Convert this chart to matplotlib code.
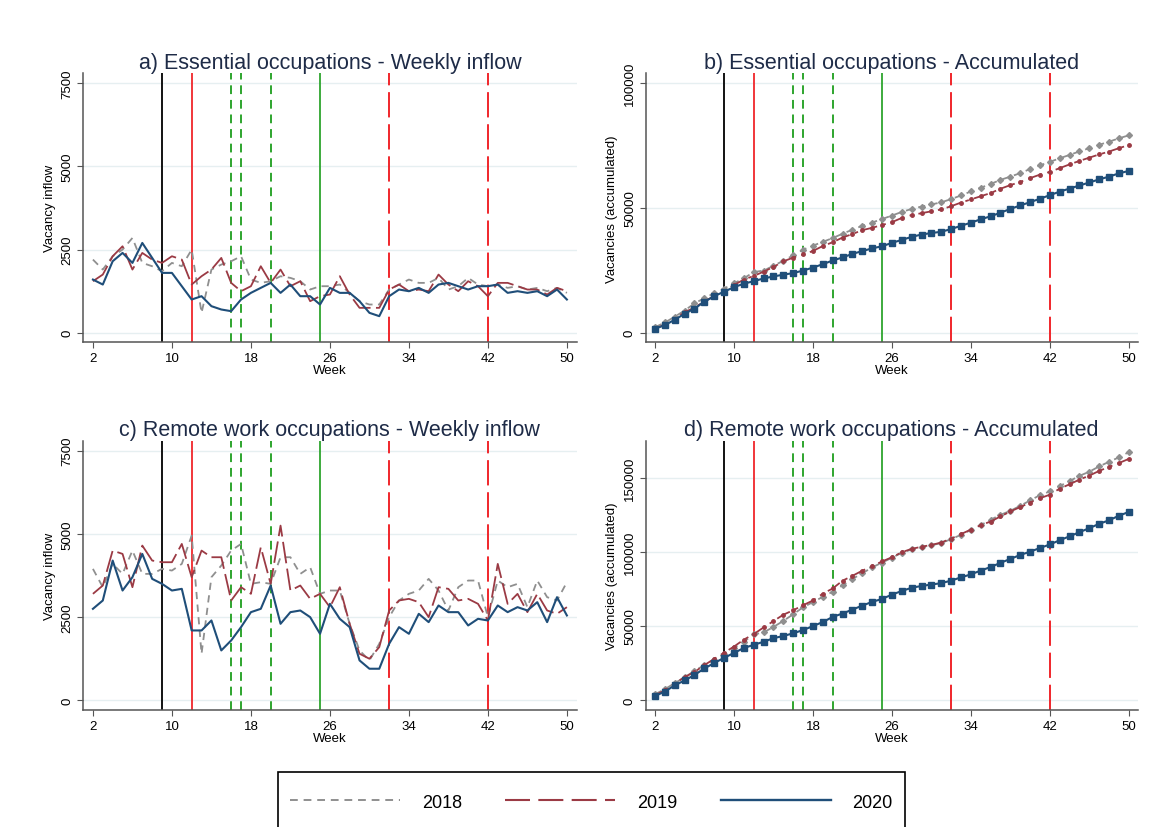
import numpy as np
import matplotlib
matplotlib.use("Agg")
import matplotlib.pyplot as plt
from matplotlib.lines import Line2D
from matplotlib.patches import Rectangle

plt.rcParams['font.family'] = ['Liberation Sans', 'DejaVu Sans']

weeks = list(range(2, 51))

# weekly vacancy inflow, essential occupations
ess_2018 = [2200, 1900, 2300, 2500, 2850, 2100, 2000, 1850, 2100, 2000, 2500, 600, 1900, 2050,
            2150, 2300, 1600, 1500, 1550, 1700, 1650, 1550, 1300, 1400, 1400, 1450, 1200, 950,
            850, 850, 1300, 1450, 1600, 1500, 1500, 1650, 1300, 1400, 1650, 1450, 1400, 1450,
            1350, 1400, 1300, 1350, 1250, 1350, 1200]
ess_2019 = [1550, 1750, 2300, 2600, 1900, 2400, 2200, 2100, 2300, 2200, 1450, 1700, 1900, 2250,
            1500, 1250, 1400, 2000, 1500, 1900, 1400, 1550, 950, 1100, 1150, 1700, 1150, 750,
            750, 750, 1300, 1450, 1250, 1300, 1250, 1750, 1450, 1250, 1550, 1400, 1100, 1500,
            1500, 1400, 1300, 1300, 1150, 1350, 1250]
ess_2020 = [1600, 1450, 2150, 2400, 2100, 2700, 2250, 1800, 1800, 1400, 1000, 1100, 800, 700,
            650, 1000, 1200, 1350, 1500, 1200, 1450, 1100, 1100, 850, 1350, 1200, 1200, 950,
            600, 500, 1100, 1300, 1250, 1350, 1200, 1450, 1500, 1400, 1300, 1400, 1400, 1450,
            1200, 1250, 1200, 1250, 1100, 1300, 1000]

# weekly vacancy inflow, remote work occupations
rem_2018 = [3950, 3400, 4100, 3800, 4500, 3800, 3800, 3950, 3900, 4100, 4950, 1400, 3700, 4050,
            4500, 4700, 3500, 3550, 3500, 4300, 4300, 3800, 4000, 3200, 3300, 3300, 2300, 1500,
            1200, 1700, 2500, 3000, 3200, 3300, 3650, 3300, 2700, 3400, 3600, 3600, 2500, 3600,
            3400, 3500, 2800, 3600, 3100, 3000, 3550]
rem_2019 = [3200, 3450, 4500, 4400, 3400, 4650, 4200, 4150, 4150, 4700, 3700, 4500, 4300, 4300,
            3000, 3400, 3200, 4600, 3500, 5250, 3300, 3450, 3050, 3200, 2800, 3400, 2300, 1400,
            1250, 1600, 2700, 3000, 3050, 2950, 2500, 3400, 3350, 3000, 3050, 2900, 2400, 4100,
            2900, 3200, 2650, 3200, 2700, 2600, 2800]
rem_2020 = [2750, 3000, 4200, 3300, 3700, 4400, 3650, 3500, 3300, 3350, 2100, 2100, 2400, 1500,
            1800, 2200, 2650, 2750, 3450, 2300, 2650, 2700, 2500, 2000, 2900, 2450, 2200, 1200,
            950, 950, 1700, 2200, 2000, 2600, 2350, 2850, 2650, 2650, 2250, 2450, 2400, 2850,
            2650, 2800, 2700, 2950, 2350, 3100, 2550]

# policy event weeks
ev_black = [9]
ev_red_solid = [12]
ev_green_dash = [16, 17, 20]
ev_green_solid = [25]
ev_red_dash = [32, 42]

titles = ["a) Essential occupations - Weekly inflow", "b) Essential occupations - Accumulated",
          "c) Remote work occupations - Weekly inflow", "d) Remote work occupations - Accumulated"]
c18, c19, c20 = '#8f8f8f', '#9b3a44', '#1f4e79'
red, green = '#f0262b', '#2ea52e'
title_col = '#1e2b47'

fig = plt.figure(figsize=(11.57, 8.28), dpi=100)
lefts = [0.0717, 0.5581]
widths = [0.4268, 0.4252]
bottoms = [0.5852, 0.1413]
h = 0.3252
xlims = [(0.99, 51.0), (1.06, 50.9)]


def events(ax):
    for w in ev_black:
        ax.axvline(w, color='black', lw=1.3, zorder=1)
    for w in ev_red_solid:
        ax.axvline(w, color=red, lw=1.3, zorder=1)
    for w in ev_green_dash:
        ax.axvline(w, color=green, lw=1.4, dashes=(4.5, 3), zorder=1)
    for w in ev_green_solid:
        ax.axvline(w, color=green, lw=1.3, zorder=1)
    for w in ev_red_dash:
        ax.axvline(w, color=red, lw=1.4, dashes=(13, 3.5), zorder=1)


def style(ax, xl, yt, ylim, ylab):
    ax.set_xlim(*xl)
    ax.set_ylim(*ylim)
    ax.set_xticks([2, 10, 18, 26, 34, 42, 50])
    ax.set_yticks(yt)
    ax.set_yticklabels([str(v) for v in yt], rotation=90, va='center')
    for v in yt:
        ax.axhline(v, color='#e6eff1', lw=1, zorder=0)
    for s in ['top', 'right']:
        ax.spines[s].set_visible(False)
    for s in ['left', 'bottom']:
        ax.spines[s].set_color('#555555')
        ax.spines[s].set_linewidth(1.1)
    ax.tick_params(labelsize=9.5, length=4, color='#555555', pad=3)
    ax.set_xlabel('Week', fontsize=9.5, labelpad=0)
    ax.set_ylabel(ylab, fontsize=9.5, labelpad=4)


data = [(ess_2018, ess_2019, ess_2020), (rem_2018, rem_2019, rem_2020)]
for r in range(2):
    s18, s19, s20 = data[r]
    # weekly inflow
    ax = fig.add_axes([lefts[0], bottoms[r], widths[0], h])
    events(ax)
    ax.plot(weeks, s18, color=c18, lw=1.3, dashes=(4, 3), zorder=2)
    ax.plot(weeks, s19, color=c19, lw=1.3, dashes=(12, 3), zorder=3)
    ax.plot(weeks, s20, color=c20, lw=1.5, zorder=4)
    style(ax, xlims[0], [0, 2500, 5000, 7500], (-290, 7800), 'Vacancy inflow')
    ax.set_title(titles[2 * r], fontsize=15.5, color=title_col, pad=4)

    # accumulated
    ax = fig.add_axes([lefts[1], bottoms[r], widths[1], h])
    events(ax)
    ax.plot(weeks, np.cumsum(s18), color=c18, lw=1.3, dashes=(4, 3), marker='D', ms=3, zorder=2)
    ax.plot(weeks, np.cumsum(s19), color=c19, lw=1.3, dashes=(8, 3, 2, 3), marker='o', ms=2.5, zorder=3)
    ax.plot(weeks, np.cumsum(s20), color=c20, lw=1.5, marker='s', ms=4.8, zorder=4)
    if r == 0:
        style(ax, xlims[1], [0, 50000, 100000], (-3900, 104000), 'Vacancies (accumulated)')
    else:
        style(ax, xlims[1], [0, 50000, 100000, 150000], (-6700, 175000), 'Vacancies (accumulated)')
    ax.set_title(titles[2 * r + 1], fontsize=15.5, color=title_col, pad=4)

# legend box runs off the bottom edge, as in the original
fig.patches.append(Rectangle((278 / 1157, -0.02), 627 / 1157, 0.02 + 55 / 828,
                             transform=fig.transFigure, fill=False, edgecolor='black', lw=1.2))
handles = [Line2D([], [], color=c18, lw=1.4, dashes=(4, 3)),
           Line2D([], [], color=c19, lw=1.5, dashes=(12, 4)),
           Line2D([], [], color=c20, lw=1.7)]
fig.legend(handles, ['2018', '2019', '2020'], loc='center', ncol=3,
           bbox_to_anchor=(0.511, 0.030), borderaxespad=0, fontsize=13, frameon=False,
           handlelength=6.1, handletextpad=1.2, columnspacing=2.4, borderpad=0)

fig.savefig('out.png', dpi=100)
